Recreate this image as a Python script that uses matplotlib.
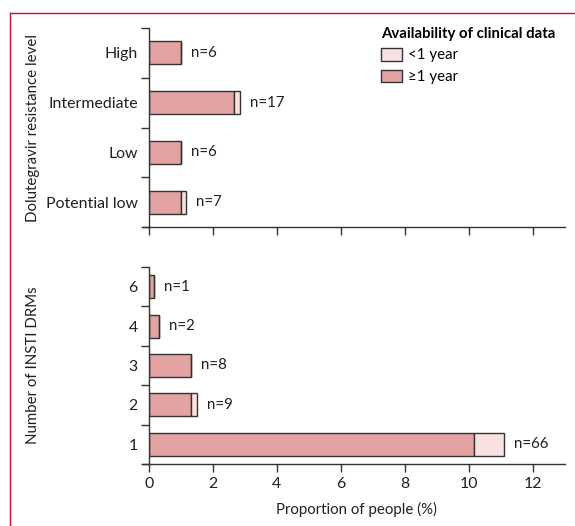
import numpy as np
import matplotlib
matplotlib.use("Agg")
from matplotlib import pyplot as plt
from matplotlib.patches import Patch
from matplotlib.lines import Line2D

plt.rcParams['font.family'] = ['Lato', 'DejaVu Sans']

# resistance level panel
levels = ["High", "Intermediate", "Low", "Potential low"]
level_ge1 = [1.0, 2.67, 1.0, 1.0]
level_total = [1.0, 2.84, 1.0, 1.17]
level_n = [6, 17, 6, 7]

# number of INSTI DRMs panel
drms = ["6", "4", "3", "2", "1"]
drm_ge1 = [0.17, 0.33, 1.33, 1.33, 10.15]
drm_total = [0.17, 0.33, 1.33, 1.5, 11.1]
drm_n = [1, 2, 8, 9, 66]

DARK = "#e2a3a2"
LIGHT = "#f8e1e0"
EDGE = "#333333"
TXT = "#231f20"
FRAME = "#c8102e"
FS = 10.8
TFS = 11.4

fig = plt.figure(figsize=(5.75, 5.26), dpi=100)
ax1 = fig.add_axes([0.259, 0.5684, 0.7235, 0.3783])
ax2 = fig.add_axes([0.259, 0.1179, 0.7235, 0.3745])


def panel(ax, cats, ge1, total, ns, height):
    y = np.arange(len(cats))
    less1 = np.array(total) - np.array(ge1)
    ax.barh(y, ge1, height=height, color=DARK, edgecolor=EDGE, linewidth=1.0)
    ax.barh(y, less1, left=ge1, height=height, color=LIGHT, edgecolor=EDGE, linewidth=1.0)
    for yi, t, n in zip(y, total, ns):
        ax.annotate(f"n={n}", (t, yi), xytext=(7, 0), textcoords="offset points",
                    va="center", ha="left", fontsize=FS, color=TXT)
    ax.set_ylim(len(cats) - 0.5, -0.5)
    ax.set_xlim(0, 13)
    ax.set_yticks(y)
    ax.set_yticklabels(cats, fontsize=TFS, color=TXT)
    ax.set_yticks(np.arange(-0.5, len(cats), 1), minor=True)
    ax.tick_params(axis="y", which="major", length=0, pad=8)
    ax.tick_params(axis="y", which="minor", length=6, width=1, color=EDGE)
    ax.set_xticks(np.arange(0, 13, 2))
    ax.tick_params(axis="x", length=6, width=1, color=EDGE, direction="out")
    for s in ["top", "right"]:
        ax.spines[s].set_visible(False)
    for s in ["left", "bottom"]:
        ax.spines[s].set_color(EDGE)
        ax.spines[s].set_linewidth(1)
    ax.spines["bottom"].set_bounds(-0.2, 13)


panel(ax1, levels, level_ge1, level_total, level_n, 0.46)
panel(ax2, drms, drm_ge1, drm_total, drm_n, 0.58)

ax1.tick_params(axis="x", labelbottom=False)
ax2.set_xticklabels([str(v) for v in range(0, 13, 2)], fontsize=TFS, color=TXT)
ax2.set_xlabel("Proportion of people (%)", fontsize=FS, color=TXT, labelpad=8)

fig.text(0.058, 0.7576, "Dolutegravir resistance level", rotation=90, ha="center",
         va="center", fontsize=FS, color=TXT)
fig.text(0.058, 0.306, "Number of INSTI DRMs", rotation=90, ha="center",
         va="center", fontsize=FS, color=TXT)

handles = [Patch(facecolor=LIGHT, edgecolor=EDGE, linewidth=1, label="<1 year"),
           Patch(facecolor=DARK, edgecolor=EDGE, linewidth=1, label="≥1 year")]
leg = ax1.legend(handles=handles, title="Availability of clinical data",
                 loc="upper left", bbox_to_anchor=(0.54, 1.045), frameon=False,
                 fontsize=FS, title_fontproperties={"weight": "bold", "size": FS},
                 handlelength=1.4, handleheight=0.9, handletextpad=0.4,
                 labelspacing=0.5, borderpad=0, alignment="left")

# panel frame
fig.add_artist(Line2D([9.5 / 575, 1], [1 - 12.5 / 526] * 2, color=FRAME, lw=1.0,
                      transform=fig.transFigure))
fig.add_artist(Line2D([9.5 / 575] * 2, [0, 1 - 12.5 / 526], color=FRAME, lw=1.0,
                      transform=fig.transFigure))

fig.savefig("out.png", dpi=100)
